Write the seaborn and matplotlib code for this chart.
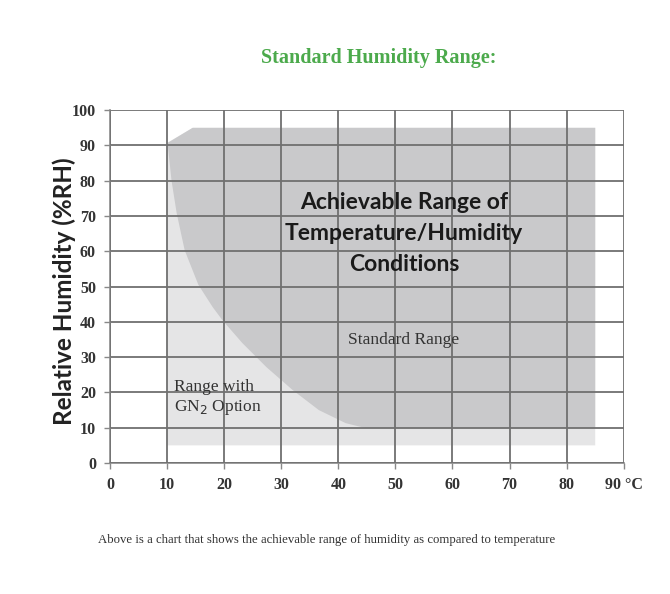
import numpy as np
import pandas as pd
import seaborn as sns
import matplotlib.pyplot as plt

# dados
temp_ticks = [0, 10, 20, 30, 40, 50, 60, 70, 80, 90]
temp_labels = ['0', '10', '20', '30', '40', '50', '60', '70', '80', '90 °C']
rh_ticks = [0, 10, 20, 30, 40, 50, 60, 70, 80, 90, 100]

# faixa com opcao GN2 (cinza claro)
gn2_temp = [10, 10, 14.5, 85, 85]
gn2_rh = [5, 90.7, 95, 95, 5]

# faixa padrao (cinza escuro): borda curva + cantos
std_temp = [14.5, 10.1, 10.8, 11.7, 13.1, 15.5, 18.0, 19.7, 23.2, 27.4, 32.0, 36.6, 41.3, 44.8, 85, 85]
std_rh = [95, 90.7, 80.0, 70.8, 60.3, 50.5, 44.2, 40.5, 34.0, 27.2, 20.7, 15.0, 11.3, 9.9, 9.9, 95]

sns.set_theme(style="white")
serif = ['Liberation Serif', 'DejaVu Serif']
sans = ['Lato', 'DejaVu Sans']

fig = plt.figure(figsize=(6.7, 5.94), dpi=100)
ax = fig.add_axes([0.164, 0.2205, 0.767, 0.594])

gn2 = pd.DataFrame({'temp': gn2_temp, 'rh': gn2_rh})
std = pd.DataFrame({'temp': std_temp, 'rh': std_rh})
ax.fill(gn2['temp'], gn2['rh'], color='#e5e5e6', lw=0, zorder=1)
ax.fill(std['temp'], std['rh'], color='#c9c9cb', lw=0, zorder=2)

ax.set_xlim(0, 90)
ax.set_ylim(0, 100)
ax.set_xticks(temp_ticks)
ax.set_xticklabels(temp_labels, family=serif, fontweight='bold', fontsize=11.5, color='#333333')
ax.set_yticks(rh_ticks)
ax.set_yticklabels(rh_ticks, family=serif, fontweight='bold', fontsize=11.5, color='#333333')
ax.tick_params(axis='both', length=4, width=1, color='#888888', pad=6, left=True, bottom=True)

ax.grid(True, color='#707070', lw=1.3, zorder=3)
ax.set_axisbelow(False)
for s in ['left', 'bottom']:
    ax.spines[s].set_color('#8a8a8a')
    ax.spines[s].set_linewidth(1.2)
for s in ['top', 'right']:
    ax.spines[s].set_visible(False)

ax.set_ylabel('Relative Humidity (%RH)', family=sans, fontweight='bold', fontsize=17.5, color='#222222')
ax.yaxis.set_label_coords(-0.066, 0.487)

ax.text(51.5, 65, 'Achievable Range of\nTemperature/Humidity\nConditions', ha='center', va='center',
        family=sans, fontweight='bold', fontsize=16.5, color='#1a1a1a', linespacing=1.6, zorder=4)
ax.text(51.5, 35, 'Standard Range', ha='center', va='center', family=serif, fontsize=12.5,
        color='#333333', zorder=4)
ax.text(11.3, 18.5, 'Range with\nGN$_2$ Option', ha='left', va='center', family=serif, fontsize=12.5,
        color='#333333', linespacing=1.25, zorder=4)

fig.text(0.565, 0.902, 'Standard Humidity Range:', ha='center', va='center', family=serif,
         fontweight='bold', fontsize=14.5, color='#4caa4c')
fig.text(0.487, 0.091, 'Above is a chart that shows the achievable range of humidity as compared to temperature',
         ha='center', va='center', family=serif, fontsize=9.2, color='#333333')

fig.savefig('out.png', dpi=100)
